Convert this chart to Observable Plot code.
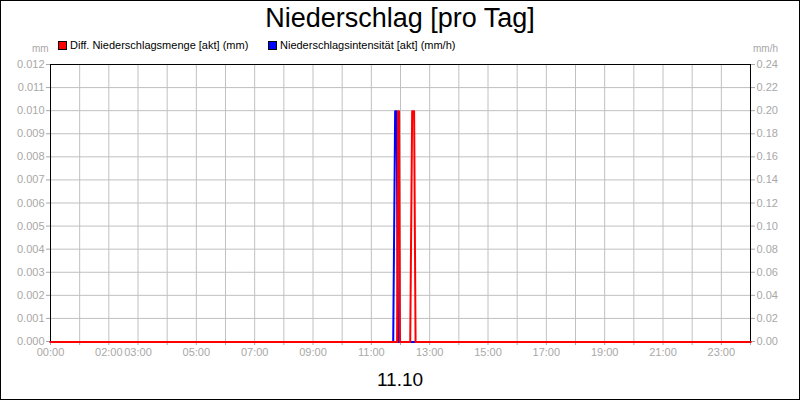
<!DOCTYPE html>
<html><head><meta charset="utf-8">
<script src="https://cdn.jsdelivr.net/npm/d3@7"></script>
<script src="https://cdn.jsdelivr.net/npm/@observablehq/plot@0.6"></script>
<style>
body{margin:0;background:#fff;font-family:"Liberation Sans",Arial,sans-serif;}
#wrap{position:relative;width:800px;height:400px;overflow:hidden;background:#fff;}
#border{position:absolute;left:0;top:0;width:798px;height:398px;border:1px solid #000;pointer-events:none;}
#title{position:absolute;left:0;width:800px;top:3px;text-align:center;font-size:27px;color:#000;}
.leg{position:absolute;top:39px;font-size:11px;color:#000;white-space:nowrap;}
.sw{display:inline-block;width:7px;height:7px;border:1px solid #000;margin-right:3px;vertical-align:-1px;}
.unit{position:absolute;top:43px;font-size:10px;color:#a8a8a8;}
#date{position:absolute;left:0;width:800px;top:369px;text-align:center;font-size:19px;color:#000;}
#chart{position:absolute;left:0;top:0;}
</style></head>
<body>
<div id="wrap">
  <div id="chart"></div>
  <div id="title">Niederschlag [pro Tag]</div>
  <div class="leg" style="left:58px"><span class="sw" style="background:#ff0000"></span><span id="l1"></span></div>
  <div class="leg" style="left:268px"><span class="sw" style="background:#0000ff"></span><span id="l2"></span></div>
  <div class="unit" style="left:32px">mm</div>
  <div class="unit" style="left:753px">mm/h</div>
  <div id="date"></div>
  <div id="border"></div>
</div>
<script>
const seriesNames = ["Diff. Niederschlagsmenge [akt] (mm)", "Niederschlagsintensität [akt] (mm/h)"];
const dateLabel = "11.10";
// Diff. Niederschlagsmenge (mm), left axis
const mengeTimes  = ["00:00","11:53","11:55","11:57","11:59","12:20","12:24","12:28","12:31","24:00"];
const mengeValues = [0,       0,      0.010,  0.010,  0,      0,      0.010,  0.010,  0,      0];
// Niederschlagsintensität (mm/h), right axis
const intTimes  = ["00:00","11:45","11:49","11:52","11:55","24:00"];
const intValues = [0,       0,      0.20,   0.20,   0,      0];
const leftTicks  = [0,0.001,0.002,0.003,0.004,0.005,0.006,0.007,0.008,0.009,0.010,0.011,0.012];
const rightTicks = [0,0.02,0.04,0.06,0.08,0.10,0.12,0.14,0.16,0.18,0.20,0.22,0.24];
const xLabels = ["00:00","02:00","03:00","05:00","07:00","09:00","11:00","13:00","15:00","17:00","19:00","21:00","23:00"];

document.getElementById("l1").textContent = seriesNames[0];
document.getElementById("l2").textContent = seriesNames[1];
document.getElementById("date").textContent = dateLabel;

const toH = s => { const [h,m] = s.split(":").map(Number); return h + m/60; };
const ratio = leftTicks[leftTicks.length-1] / rightTicks[rightTicks.length-1];
const menge = mengeTimes.map((t,i) => ({x: toH(t), y: mengeValues[i]}));
const inten = intTimes.map((t,i) => ({x: toH(t), y: intValues[i] * ratio}));
const hours = d3.range(0, 25);
const labelSet = new Set(xLabels.map(toH));
const fmtH = h => String(h).padStart(2,"0") + ":00";
const gray = "#a8a8a8";

const chart = Plot.plot({
  width: 800, height: 400,
  marginLeft: 50, marginRight: 50, marginTop: 64, marginBottom: 59,
  style: {fontFamily: "Liberation Sans, Arial, sans-serif", fontSize: "11px", background: "transparent"},
  x: {domain: [0, 24]},
  y: {domain: [0, leftTicks[leftTicks.length-1]]},
  marks: [
    Plot.gridX(hours, {stroke: "#c0c0c0", strokeOpacity: 1}),
    Plot.gridY(leftTicks, {stroke: "#c0c0c0", strokeOpacity: 1}),
    Plot.axisX({ticks: hours, tickSize: 4, tickPadding: 3, color: gray, tickFormat: h => labelSet.has(h) ? fmtH(h) : "", label: null}),
    Plot.axisY({anchor: "left", ticks: leftTicks, tickSize: 4, tickPadding: 2, color: gray, tickFormat: d => d.toFixed(3), label: null}),
    Plot.axisY({anchor: "right", ticks: leftTicks, tickSize: 4, tickPadding: 2, color: gray, tickFormat: d => (d / ratio).toFixed(2), label: null}),
    Plot.frame({stroke: "#000"}),
    Plot.line(inten, {x: "x", y: "y", stroke: "#0000ff", strokeWidth: 2, dy: 0.5}),
    Plot.line(menge, {x: "x", y: "y", stroke: "#ff0000", strokeWidth: 2, dy: 0.5})
  ]
});
document.getElementById("chart").appendChild(chart);
</script>
</body></html>
